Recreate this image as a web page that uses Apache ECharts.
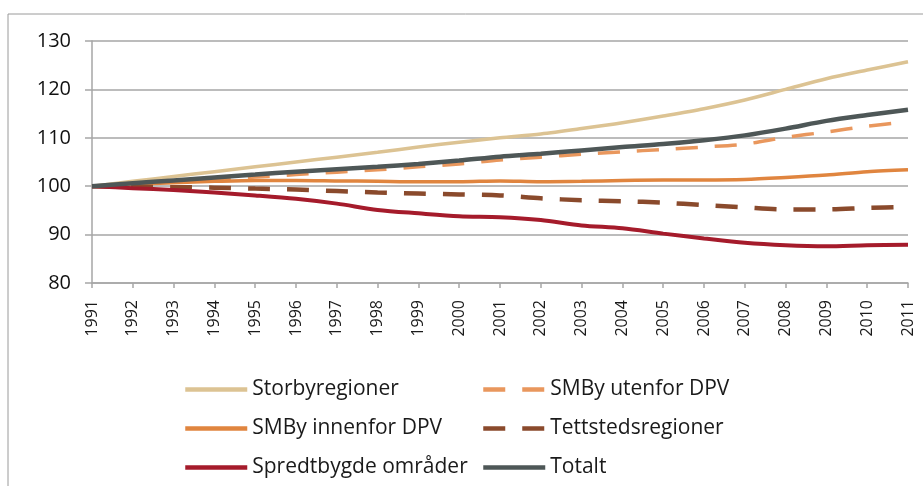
<!DOCTYPE html>
<html>
<head>
<meta charset="utf-8">
<script src="https://cdn.jsdelivr.net/npm/echarts@6/dist/echarts.min.js"></script>
<style>
  html, body { margin: 0; padding: 0; background: #fff; }
  #main { width: 923px; height: 486px; }
</style>
</head>
<body>
<div id="main"></div>
<script>
var years = ["1991", "1992", "1993", "1994", "1995", "1996", "1997", "1998", "1999", "2000",
  "2001", "2002", "2003", "2004", "2005", "2006", "2007", "2008", "2009", "2010", "2011"];

var storby = [100, 101, 102, 103, 104, 105, 106, 107, 108.1, 109.1,
  110, 110.8, 111.9, 113.1, 114.5, 116, 117.8, 120, 122.2, 124, 125.7];
var smbyUtenfor = [100, 100.4, 100.9, 101.4, 101.9, 102.4, 102.9, 103.4, 104, 104.6,
  105.4, 106, 106.6, 107.1, 107.6, 108.1, 108.7, 110.1, 111.2, 112.4, 113.3];
var smbyInnenfor = [100, 100.4, 100.7, 101, 101.2, 101.2, 101.1, 101, 100.9, 100.9,
  101.1, 100.9, 101, 101.2, 101.3, 101.3, 101.4, 101.8, 102.3, 103, 103.4];
var tettsted = [100, 99.9, 99.8, 99.7, 99.5, 99.3, 99, 98.7, 98.5, 98.3,
  98.1, 97.5, 97.1, 96.9, 96.6, 96.1, 95.6, 95.2, 95.2, 95.5, 95.7];
var spredtbygd = [100, 99.6, 99.2, 98.7, 98.1, 97.4, 96.4, 95.1, 94.4, 93.8,
  93.6, 93, 91.9, 91.3, 90.2, 89.2, 88.3, 87.8, 87.6, 87.8, 87.9];
var totalt = [100, 100.6, 101.2, 101.8, 102.4, 103, 103.5, 104, 104.6, 105.3,
  106.1, 106.7, 107.4, 108.1, 108.7, 109.5, 110.5, 111.9, 113.5, 114.7, 115.8];

var chart = echarts.init(document.getElementById("main"));

function line(name, data, color, width, dashed) {
  return {
    name: name,
    type: "line",
    data: data,
    smooth: 0.3,
    symbol: "none",
    lineStyle: { color: color, width: width, type: dashed ? [22, 17] : "solid" },
    itemStyle: { color: color }
  };
}

function legendCol(left, names) {
  return {
    orient: "vertical",
    left: left,
    top: 379,
    height: 106,
    padding: 0,
    itemWidth: 62,
    itemHeight: 12,
    itemGap: 18,
    itemStyle: { opacity: 0, color: "transparent", borderWidth: 0 },
    lineStyle: { width: 4.5 },
    textStyle: { fontFamily: "Open Sans", fontSize: 21, color: "#1a1a1a" },
    data: names
  };
}

var option = {
  animation: false,
  graphic: [
    { type: "line", shape: { x1: 8, y1: 14, x2: 923, y2: 14 }, style: { stroke: "#9a9a9a", lineWidth: 1 } },
    { type: "line", shape: { x1: 8, y1: 14, x2: 8, y2: 486 }, style: { stroke: "#9a9a9a", lineWidth: 1 } }
  ],
  grid: { left: 92, right: 15, top: 41, bottom: 203 },
  legend: [
    legendCol(183, ["Storbyregioner", "SMBy innenfor DPV", "Spredtbygde områder"]),
    legendCol(481, ["SMBy utenfor DPV", "Tettstedsregioner", "Totalt"])
  ],
  xAxis: {
    type: "category",
    data: years,
    boundaryGap: false,
    axisLine: { lineStyle: { color: "#a6a6a6", width: 1.5 } },
    axisTick: { show: true, alignWithLabel: true, length: 5, lineStyle: { color: "#a6a6a6", width: 1.5 } },
    axisLabel: { rotate: 90, margin: 17, fontFamily: "Open Sans", fontSize: 16, color: "#1a1a1a", interval: 0 }
  },
  yAxis: {
    type: "value",
    min: 80,
    max: 130,
    interval: 10,
    axisLine: { show: true, lineStyle: { color: "#a6a6a6", width: 1.5 } },
    axisTick: { show: true, length: 7, lineStyle: { color: "#a6a6a6", width: 1.5 } },
    splitLine: { lineStyle: { color: "#a6a6a6", width: 1.5 } },
    axisLabel: { margin: 21, fontFamily: "Open Sans", fontSize: 20, color: "#111" }
  },
  series: [
    line("Storbyregioner", storby, "#dcc393", 3.5, false),
    line("SMBy utenfor DPV", smbyUtenfor, "#e9975d", 3.5, true),
    line("SMBy innenfor DPV", smbyInnenfor, "#e0853f", 3.5, false),
    line("Tettstedsregioner", tettsted, "#8a4a2c", 4.5, true),
    line("Spredtbygde områder", spredtbygd, "#a51b2b", 4, false),
    line("Totalt", totalt, "#4e5757", 4.5, false)
  ]
};

chart.setOption(option);
</script>
</body>
</html>
